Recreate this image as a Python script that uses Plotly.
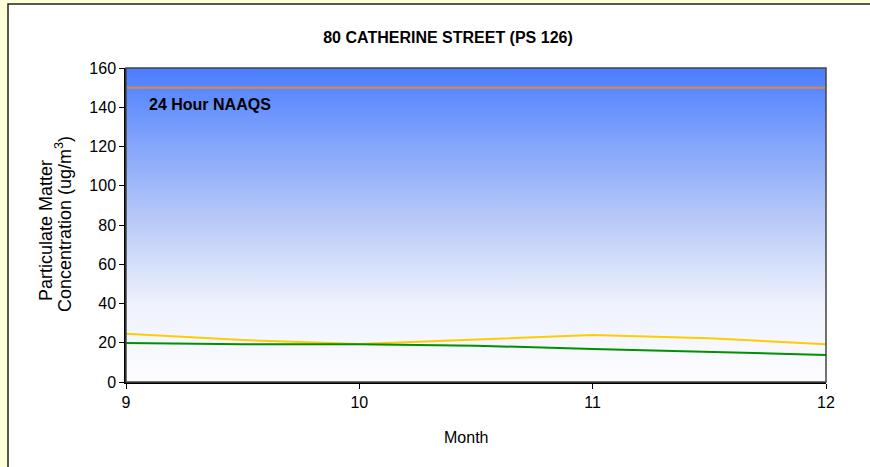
import plotly.graph_objects as go

months = [9, 9.5, 10, 10.5, 11, 11.5, 12]
series_yellow = [24.6, 21.4, 19.4, 21.7, 23.9, 22.3, 19.2]
series_green = [19.9, 19.2, 19.2, 18.5, 16.8, 15.3, 13.8]
naaqs_level = 150
x_ticks = [9, 10, 11, 12]
y_ticks = [0, 20, 40, 60, 80, 100, 120, 140, 160]

W, H = 870, 467
L, R, T, B = 126, 44, 68, 85
pw, ph = W - L - R, H - T - B

def px_x(p):
    return (p - L) / pw

def px_y(p):
    return (H - B - p) / ph

FONT = "Liberation Sans, Arial, sans-serif"
FS = 16
FS_Y = 18

fig = go.Figure()

# gradient background of plot area
fig.add_trace(go.Scatter(
    x=[x_ticks[0], x_ticks[-1], x_ticks[-1], x_ticks[0], x_ticks[0]],
    y=[y_ticks[0], y_ticks[0], y_ticks[-1], y_ticks[-1], y_ticks[0]],
    mode="lines", line=dict(width=0), fill="toself",
    fillgradient=dict(type="vertical",
                      colorscale=[[0, "#FDFDFF"], [0.25, "#EEF2FD"], [0.5, "#BCCCF8"],
                                  [0.75, "#85A6FB"], [1, "#4A7EFF"]]),
    hoverinfo="skip", showlegend=False))

fig.add_trace(go.Scatter(x=[x_ticks[0], x_ticks[-1]], y=[naaqs_level, naaqs_level],
                         mode="lines", line=dict(color="#E0883A", width=2),
                         showlegend=False))
fig.add_trace(go.Scatter(x=months, y=series_yellow, mode="lines",
                         line=dict(color="#FFCC00", width=2), showlegend=False))
fig.add_trace(go.Scatter(x=months, y=series_green, mode="lines",
                         line=dict(color="#009000", width=2), showlegend=False))

shapes = [
    dict(type="rect", xref="paper", yref="paper",
         x0=px_x(8), x1=px_x(900), y0=px_y(500), y1=px_y(4),
         fillcolor="white", line=dict(color="#222222", width=1.5), layer="below"),
    dict(type="rect", xref="paper", yref="paper", x0=0, x1=1, y0=0, y1=1,
         line=dict(color="#444444", width=1.5), fillcolor="rgba(0,0,0,0)", layer="above"),
]

fig.update_layout(
    width=W, height=H,
    margin=dict(l=L, r=R, t=T, b=B),
    paper_bgcolor="#FFFFDA",
    plot_bgcolor="rgba(0,0,0,0)",
    font=dict(family=FONT, size=FS, color="black"),
    shapes=shapes,
    title=dict(text="<b>80 CATHERINE STREET (PS 126)</b>", x=448 / W,
               xref="container", xanchor="center", y=1 - 37 / H, yref="container",
               yanchor="middle", font=dict(family=FONT, size=FS, color="black")),
    annotations=[
        dict(text="<b>24 Hour NAAQS</b>", x=9.09, y=141.5, xref="x", yref="y",
             xanchor="left", yanchor="middle", showarrow=False,
             font=dict(family=FONT, size=FS, color="black")),
        dict(text="Particulate Matter",
             x=px_x(46), y=px_y(231), xref="paper", yref="paper", textangle=-90,
             showarrow=False, xanchor="center", yanchor="middle",
             font=dict(family=FONT, size=FS_Y, color="black")),
        dict(text="Concentration (ug/m<sup>3</sup>)",
             x=px_x(63), y=px_y(224), xref="paper", yref="paper", textangle=-90,
             showarrow=False, xanchor="center", yanchor="middle",
             font=dict(family=FONT, size=FS_Y, color="black")),
        dict(text="Month", x=px_x(466), y=px_y(437), xref="paper", yref="paper",
             showarrow=False, xanchor="center", yanchor="middle",
             font=dict(family=FONT, size=FS, color="black")),
    ],
    xaxis=dict(range=[x_ticks[0], x_ticks[-1]], tickvals=x_ticks, showgrid=False,
               zeroline=False, showline=True, linecolor="black", linewidth=1.5,
               ticks="outside", ticklen=5, tickcolor="black", tickfont=dict(size=FS)),
    yaxis=dict(range=[y_ticks[0], y_ticks[-1]], tickvals=y_ticks, showgrid=False,
               zeroline=False, showline=True, linecolor="black", linewidth=1.5,
               ticks="outside", ticklen=5, tickcolor="black", tickfont=dict(size=FS)),
)

fig.write_html("out.html", config={"displayModeBar": False},
               post_script="document.body.style.margin='0';document.body.style.background='#FFFFDA';")
